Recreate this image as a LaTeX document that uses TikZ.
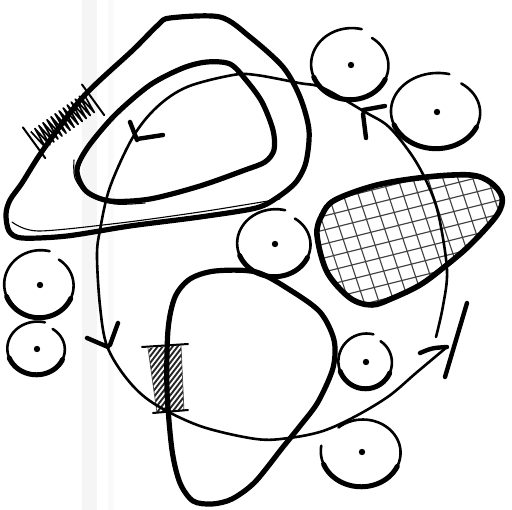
\documentclass[tikz,border=0pt]{standalone}
\begin{document}
\begin{tikzpicture}[x=1pt,y=-1pt,
  heavy/.style={line width=5.2pt,line cap=round,line join=round},
  ring/.style={line width=2.6pt,line cap=round,line join=round},
  fine/.style={line width=1.1pt,line cap=round},
  circline/.style={line width=2.6pt,line cap=round},
  circthick/.style={line width=5pt,line cap=round},
  arrowstroke/.style={line width=4.4pt,line cap=round},
  gridline/.style={line width=1.1pt,black!75},
  hatchline/.style={line width=1.9pt,black!85},
  coil/.style={line width=1.7pt,line join=round}]
\useasboundingbox[fill=white] (0,0) rectangle (512,510);
\fill[black!4] (82,0) rectangle (97,510);
\fill[black!2] (108,0) rectangle (114,510);

\newcommand\sblob[6]{%
  \draw[circline] plot[domain=#5:#6,samples=70,smooth,variable=\t]
    ({#1+#3*(0.94+0.12*(\t-(#5))/((#6)-(#5)))*cos(\t)},{#2+#4*(0.94+0.12*(\t-(#5))/((#6)-(#5)))*sin(\t)});
  \draw[circthick] plot[domain=25:160,samples=30,smooth,variable=\t]
    ({#1+#3*(0.94+0.12*(\t-(#5))/((#6)-(#5)))*cos(\t)},{#2+#4*(0.94+0.12*(\t-(#5))/((#6)-(#5)))*sin(\t)});
  \fill (#1,#2) circle (3.2);
}

% cross-hatched region
\begin{scope}
  \clip plot[smooth cycle,tension=0.55] coordinates {(317,235) (322,215) (335,200) (377,185) (427,177) (470,175) (490,182) (502,197) (497,215) (470,245) (443,268) (420,285) (393,298) (372,305) (350,298) (327,272)};
  \foreach \k in {0,...,20} \draw[gridline] (250+15*\k,140) -- ++(65,195);
  \foreach \k in {0,...,16} \draw[gridline] (300,180+14*\k) -- ++(220,-55);
\end{scope}
\draw[heavy,line width=5.6pt] plot[smooth cycle,tension=0.55] coordinates {(317,235) (322,215) (335,200) (377,185) (427,177) (470,175) (490,182) (502,197) (497,215) (470,245) (443,268) (420,285) (393,298) (372,305) (350,298) (327,272)};

% lower hatch
\begin{scope}
  \clip (148,348) -- (181,345) -- (184,411) -- (157,413) -- cycle;
  \foreach \k in {0,...,19} \draw[hatchline] (140,350+6.5*\k) -- ++(50,-65);
\end{scope}
\draw[line width=0.7pt,black!70] (148,348) -- (157,413) (181,345) -- (184,411);
\draw[line width=2pt,line cap=round] (142,347) -- (188,344);
\draw[line width=2pt,line cap=round] (153,413) -- (188,410);

% top-left coil hatch
\begin{scope}[shift={(64,121)},rotate=36]
  \draw[coil] (-33,-11) \foreach \i in {0,...,12} { -- (-30.5+5*\i,11) -- (-28+5*\i,-11) };
  \draw[line width=2pt,line cap=round] (-37,-19) -- (-37,19);
  \draw[line width=2pt,line cap=round] (36,-19) -- (36,19);
\end{scope}

% outer triangle
\draw[heavy] plot[smooth cycle,tension=0.5] coordinates {(170,18) (220,17) (250,37) (283,67) (300,97) (309,130) (306,162) (296,182) (278,197) (256,208) (200,217) (130,226) (67,236) (22,238) (9,231) (6,214) (10,200) (22,183) (43,150) (83,97) (133,50) (158,25)};
\draw[fine] plot[smooth,tension=0.5] coordinates {(12,222) (38,231) (120,223) (200,212) (256,203) (280,199)};

% inner triangle
\draw[heavy] plot[smooth cycle,tension=0.5] coordinates {(207,62) (230,64) (246,80) (262,102) (273,130) (274,150) (265,162) (245,170) (200,186) (150,199) (110,201) (86,191) (77,170) (88,147) (115,115) (150,85) (183,68)};
\draw[fine] plot[smooth,tension=0.5] coordinates {(74,160) (75,178) (88,195) (115,204) (145,203)};

% lower triangle
\draw[heavy] plot[smooth cycle,tension=0.5] coordinates {(212,504) (193,501) (180,483) (172,450) (167,390) (168,330) (175,297) (190,279) (215,271) (256,272) (290,290) (320,312) (334,340) (333,368) (318,402) (300,426) (283,447) (255,482) (232,499)};

% big circuit
\draw[ring] plot[smooth,tension=0.55] coordinates {(436,337) (443,306) (447,270) (439,217) (429,187) (413,157) (389,127) (365,112) (323,88) (299,83) (256,75) (233,75) (187,87) (157,107) (133,137) (110,187) (100,230) (97,256) (100,306) (107,346) (127,379) (153,403) (200,426) (256,439) (289,438) (323,431) (356,416) (389,396) (416,373) (447,347)};

% arrow strokes
\draw[arrowstroke] (363,110) -- (385,106);
\draw[arrowstroke] (363,114) -- (366,138);
\draw[arrowstroke] (130,122) -- (137,140);
\draw[arrowstroke] (137,139) -- (163,135);
\draw[arrowstroke] (87,338) -- (108,347);
\draw[arrowstroke] (118,323) -- (110,345);
\draw[arrowstroke] (420,353) .. controls (432,348) .. (447,347);
\draw[arrowstroke] (467,303) -- (445,377);

% small circles
\sblob{351}{65}{39}{35}{-55}{285}
\sblob{437}{112}{45}{37}{-55}{285}
\sblob{275}{244}{37}{33}{-55}{285}
\sblob{40}{285}{35}{33}{-55}{285}
\sblob{37}{349}{29}{26}{-55}{285}
\sblob{366}{362}{27}{27}{-55}{285}
\sblob{362}{452}{39}{34}{-130}{190}
\end{tikzpicture}
\end{document}
